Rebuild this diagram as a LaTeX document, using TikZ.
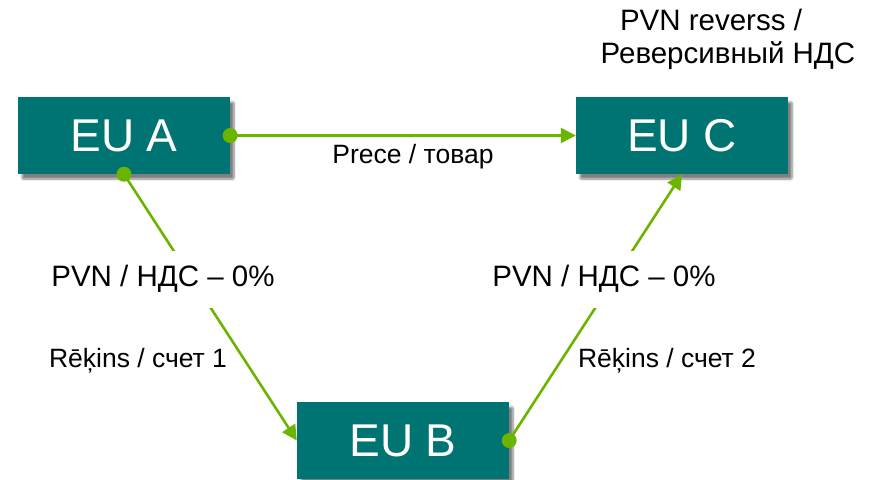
\documentclass[tikz,border=0pt]{standalone}
\usepackage{fontspec}
\setmainfont{Liberation Sans}
\usetikzlibrary{arrows.meta,shadows.blur}
\definecolor{teal}{RGB}{0,115,115}
\definecolor{lgreen}{RGB}{107,180,0}
\tikzset{
  eubox/.style={fill=teal, text=white, minimum width=212pt, minimum height=77pt, inner sep=0pt,
    font=\fontsize{46}{50}\selectfont,
    blur shadow={shadow xshift=4pt, shadow yshift=-5pt, shadow blur steps=6, shadow blur extra rounding=1pt, shadow opacity=50}},
  conn/.style={draw=lgreen, line width=2.6pt, -{Triangle[length=15pt,width=15pt]}},
  dot/.style={fill=lgreen},
  vat/.style={fill=white, inner xsep=1pt, minimum height=57pt, font=\fontsize{29.5}{33}\selectfont},
  lbl/.style={inner sep=0pt, font=\fontsize{26.5}{30}\selectfont},
  toplbl/.style={inner sep=0pt, font=\fontsize{29.5}{33}\selectfont}
}
\begin{document}
\begin{tikzpicture}[x=1pt,y=-1pt]
\useasboundingbox (0,0) rectangle (869,479);
\node[eubox] (A) at (124,135.5) {EU A};
\node[eubox] (C) at (682,135.5) {EU C};
\node[eubox] (B) at (403,440.5) {EU B};
\draw[conn] (A.east) -- (C.west);
\draw[conn] (A.south) -- (B.west);
\draw[conn] (B.east) -- (C.south);
\node[vat] (v1) at (163,279) {PVN / НДС – 0\%};
\node[vat] (v2) at (604,279) {PVN / НДС – 0\%};
\node[lbl] (p) at (413,157) {Prece / товар};
\node[lbl] (r1) at (138,361) {Rēķins / счет 1};
\node[lbl] (r2) at (667,361) {Rēķins / счет 2};
\node[toplbl] (t1) at (711,20) {PVN reverss /};
\node[toplbl] (t2) at (728,56) {Реверсивный НДС};
\fill[dot] (A.east) circle (7.5);
\fill[dot] (A.south) circle (7.5);
\fill[dot] (B.east) circle (7.5);
\end{tikzpicture}
\end{document}
